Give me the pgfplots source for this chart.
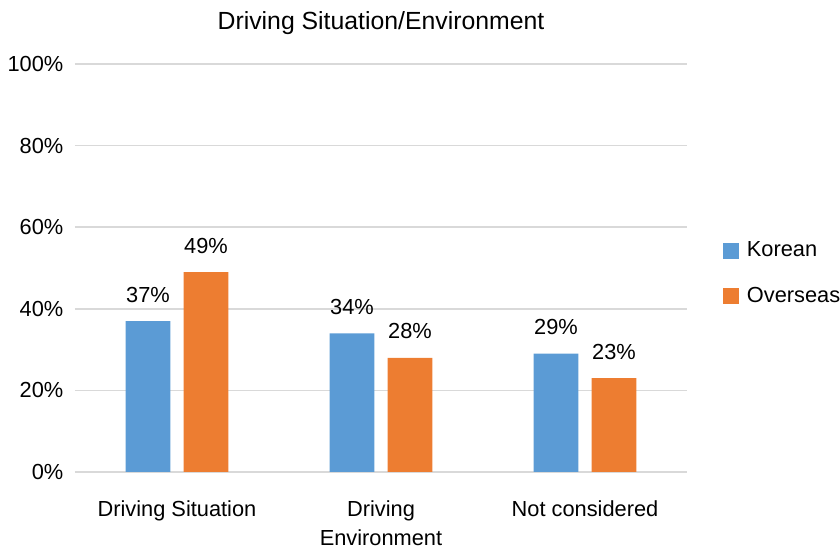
\documentclass[border=0pt]{standalone}
\usepackage{pgfplots}
\pgfplotsset{compat=1.18}
\usepackage{fontspec}
\setmainfont{Liberation Sans}
\definecolor{kblue}{HTML}{5B9BD5}
\definecolor{oorange}{HTML}{ED7D31}
\definecolor{gridgray}{HTML}{D9D9D9}
\begin{document}
\fontsize{10.9bp}{13bp}\selectfont
\begin{tikzpicture}
\begin{axis}[
    scale only axis,
    width=306bp,
    height=204bp,
    ybar,
    bar width=0.22,
    ymin=0, ymax=100,
    xmin=-0.5, xmax=2.5,
    ytick={0,20,40,60,80,100},
    yticklabel={\pgfmathprintnumber{\tick}\%},
    /pgf/number format/assume math mode=true,
    xtick=data,
    xticklabels={Driving Situation,{Driving\\Environment},Not considered},
    xticklabel style={align=center, yshift=-10.5bp},
    tick label style={font=\fontsize{10.9bp}{14.5bp}\selectfont},
    ymajorgrids,
    grid style={gridgray, line width=0.8bp},
    axis line style={draw=none},
    major tick length=0pt,
    yticklabel style={xshift=-2bp},
    title={Driving Situation/Environment},
    title style={font=\fontsize{12.4bp}{14bp}\selectfont, yshift=5bp},
    nodes near coords={\pgfmathprintnumber{\pgfplotspointmeta}\%},
    every node near coord/.append style={font=\fontsize{10.9bp}{13bp}\selectfont, anchor=base, inner sep=0pt, yshift=9.5bp},
    legend style={at={(rel axis cs:1.058,0.575)}, anchor=north west, draw=none,
        fill=none, row sep=9.5bp, inner sep=0pt,
        font=\fontsize{10.9bp}{13bp}\selectfont,
        nodes={inner xsep=4bp},
        /tikz/every even column/.append style={column sep=0pt}},
    legend image code/.code={\fill[#1] (0bp,-4bp) rectangle (8bp,4bp);},
    legend cell align=left,
]
\addplot[fill=kblue, draw=none, /pgf/bar shift=-0.142] coordinates {(0,37) (1,34) (2,29)};
\addplot[fill=oorange, draw=none, /pgf/bar shift=0.142] coordinates {(0,49) (1,28) (2,23)};
\legend{Korean, Overseas}
\coordinate (o) at (rel axis cs:0,0);
\end{axis}
\pgfresetboundingbox
\path (o) ++(-37.5bp,-39bp) rectangle ++(420bp,275bp);
\end{tikzpicture}
\end{document}
